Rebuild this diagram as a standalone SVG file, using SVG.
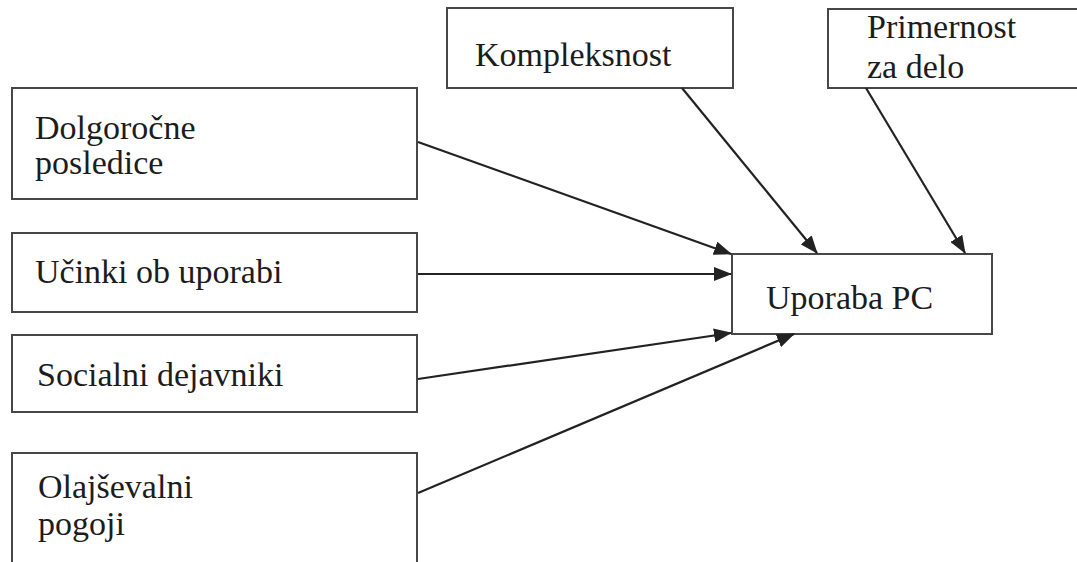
<svg xmlns="http://www.w3.org/2000/svg" width="1077" height="562" viewBox="0 0 1077 562">
  <style>
    .box { fill: #ffffff; stroke: #474747; stroke-width: 2; }
    .lbl { font-family: 'Liberation Serif', 'DejaVu Serif', serif; font-size: 34px; fill: #1c1c1c; }
    .edge { stroke: #222222; stroke-width: 2.2; fill: none; marker-end: url(#arrow); }
  </style>
  <defs>
    <marker id="arrow" viewBox="0 0 18 14" refX="17" refY="7" markerWidth="18" markerHeight="14" markerUnits="userSpaceOnUse" orient="auto">
      <path d="M0,0 L18,7 L0,14 z" fill="#222222"/>
    </marker>
  </defs>
  <rect width="1077" height="562" fill="#ffffff"/>

  <g id="node-dolgorocne">
    <rect class="box" x="12" y="88" width="405" height="111"/>
    <text class="lbl" x="35" y="139" font-family="Liberation Serif, serif">Dolgoročne</text>
    <text class="lbl" x="35" y="174" font-family="Liberation Serif, serif">posledice</text>
  </g>

  <g id="node-ucinki">
    <rect class="box" x="12" y="233" width="405" height="79"/>
    <text class="lbl" x="35" y="283">Učinki ob uporabi</text>
  </g>

  <g id="node-socialni">
    <rect class="box" x="12" y="335" width="405" height="77"/>
    <text class="lbl" x="37" y="386">Socialni dejavniki</text>
  </g>

  <g id="node-olajsevalni">
    <rect class="box" x="12" y="453" width="405" height="120"/>
    <text class="lbl" x="38" y="498">Olajševalni</text>
    <text class="lbl" x="38" y="535">pogoji</text>
  </g>

  <g id="node-kompleksnost">
    <rect class="box" x="447" y="8" width="286" height="80"/>
    <text class="lbl" x="475" y="66">Kompleksnost</text>
  </g>

  <g id="node-primernost">
    <rect class="box" x="828" y="9" width="260" height="79"/>
    <text class="lbl" x="867" y="38">Primernost</text>
    <text class="lbl" x="867" y="78">za delo</text>
  </g>

  <g id="node-uporaba">
    <rect class="box" x="732" y="254" width="260" height="80"/>
    <text class="lbl" x="766" y="309">Uporaba PC</text>
  </g>

  <g id="connectors">
    <line class="edge" x1="418" y1="142" x2="731" y2="254"/>
    <line class="edge" x1="418" y1="274" x2="731" y2="274"/>
    <line class="edge" x1="418" y1="379" x2="731" y2="333"/>
    <line class="edge" x1="418" y1="493" x2="794" y2="334"/>
    <line class="edge" x1="682" y1="88" x2="817" y2="253"/>
    <line class="edge" x1="866" y1="88" x2="965" y2="253"/>
  </g>
</svg>
